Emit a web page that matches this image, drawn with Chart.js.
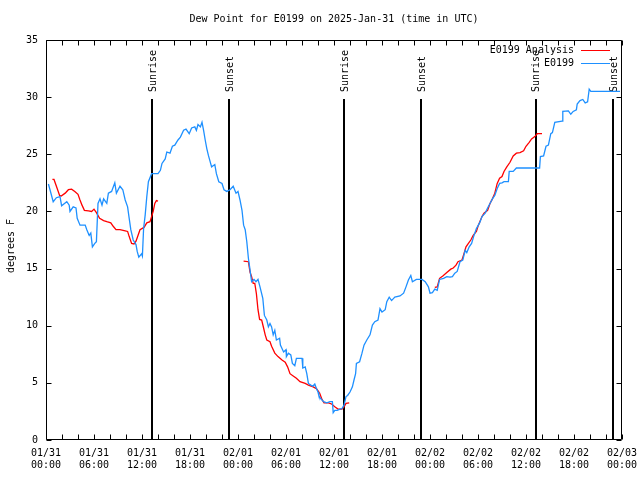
<!DOCTYPE html>
<html>
<head>
<meta charset="utf-8">
<script src="https://cdn.jsdelivr.net/npm/chart.js@4/dist/chart.umd.min.js"></script>
<style>
  html, body { margin: 0; padding: 0; background: #ffffff; }
  canvas { display: block; }
</style>
</head>
<body>
<canvas id="dewChart" width="640" height="480"></canvas>
<script>
// hours since 2025-01-31 00:00 UTC
const obsHours = [
  0.3, 0.5, 0.9, 1.3, 1.75, 1.95, 2.6, 2.9, 3.0, 3.4, 3.75, 3.9, 4.25, 4.9, 5.1, 5.4, 5.6, 5.8, 6.1, 6.3,
  6.5, 6.75, 7.0, 7.2, 7.6, 7.8, 8.2, 8.6, 8.8, 9.25, 9.6, 9.9, 10.2, 10.4, 10.6, 10.9, 11.25, 11.4, 11.6, 11.95,
  12.05, 12.2, 12.4, 12.6, 12.8, 13.2, 13.6, 14.0, 14.3, 14.5, 14.9, 15.1, 15.5, 15.8, 16.1, 16.5, 16.8, 17.2, 17.5, 17.9,
  18.2, 18.6, 18.8, 19.0, 19.3, 19.5, 19.7, 19.9, 20.1, 20.3, 20.5, 20.7, 21.1, 21.3, 21.6, 22.0, 22.25, 22.6, 23.0, 23.4,
  23.75, 24.0, 24.25, 24.5, 24.7, 24.9, 25.1, 25.3, 25.5, 25.7, 26.0, 26.25, 26.5, 26.75, 27.1, 27.3, 27.6, 27.8, 28.0, 28.2,
  28.4, 28.6, 28.8, 29.2, 29.3, 29.7, 30.0, 30.05, 30.3, 30.6, 30.8, 31.1, 31.3, 32.0, 32.1, 32.4, 32.6, 32.8, 33.1, 33.35,
  33.6, 33.8, 34.0, 34.1, 34.3, 34.7, 35.1, 35.5, 35.8, 35.9, 36.1, 36.4, 36.75, 37.0, 37.25, 37.5, 37.7, 38.0, 38.3, 38.5,
  38.7, 38.8, 39.2, 39.5, 39.75, 40.1, 40.5, 40.8, 41.1, 41.5, 41.75, 42.0, 42.4, 42.6, 42.9, 43.2, 43.6, 44.25, 44.7, 45.0,
  45.3, 45.6, 45.8, 46.3, 47.0, 47.4, 47.8, 48.0, 48.3, 48.6, 48.9, 49.2, 49.7, 50.1, 50.5, 50.8, 51.1, 51.4, 51.75, 52.1,
  52.4, 52.6, 52.9, 53.2, 53.5, 53.8, 54.2, 54.5, 54.9, 55.2, 55.5, 55.8, 56.1, 56.4, 56.7, 57.0, 57.25, 57.8, 57.9, 58.4,
  58.8, 61.7, 61.8, 62.2, 62.5, 62.8, 63.1, 63.3, 63.6, 64.5, 64.6, 65.3, 65.6, 65.9, 66.3, 66.4, 66.75, 67.1, 67.4, 67.7,
  67.9, 68.1, 71.75
];
const obsDewPoint = [
  22.4, 21.9, 20.85, 21.2, 21.3, 20.5, 20.85, 20.55, 20.0, 20.4, 20.3, 19.4, 18.8, 18.8, 18.4, 17.9, 18.1, 16.9, 17.2, 17.35,
  20.7, 21.1, 20.55, 21.1, 20.7, 21.6, 21.75, 22.5, 21.6, 22.2, 21.9, 21.0, 20.4, 19.4, 18.4, 17.5, 17.1, 16.5, 16.0, 16.3,
  16.1, 18.5, 19.7, 21.3, 22.6, 23.3, 23.3, 23.3, 23.6, 24.2, 24.6, 25.2, 25.1, 25.7, 25.8, 26.25, 26.5, 27.1, 27.2, 26.8,
  27.3, 27.4, 27.1, 27.6, 27.4, 27.8, 27.1, 26.25, 25.5, 24.9, 24.4, 23.9, 24.1, 23.3, 22.6, 22.45, 21.9, 21.75, 21.9, 22.2,
  21.6, 21.75, 21.0, 20.1, 18.8, 18.4, 17.35, 15.9, 14.9, 13.85, 14.05, 13.85, 14.05, 13.4, 12.4, 10.9, 10.5, 9.9, 10.2, 9.9,
  9.2, 9.6, 8.75, 8.9, 8.3, 7.7, 7.9, 7.3, 7.6, 7.45, 6.7, 6.5, 7.15, 7.15, 6.3, 6.4, 5.8, 4.95, 4.8, 4.7,
  4.9, 4.5, 4.2, 3.9, 3.65, 3.35, 3.25, 3.35, 3.35, 2.4, 2.6, 2.6, 2.7, 2.75, 3.05, 3.8, 3.9, 4.2, 4.65, 5.25,
  5.8, 6.7, 6.85, 7.6, 8.3, 8.75, 9.2, 10.05, 10.35, 10.5, 11.5, 11.2, 11.4, 12.1, 12.5, 12.2, 12.5, 12.6, 12.85, 13.4,
  14.0, 14.4, 13.85, 14.05, 14.05, 13.85, 13.4, 12.85, 12.9, 13.2, 13.1, 14.05, 14.15, 14.3, 14.25, 14.3, 14.6, 14.75, 15.6, 15.75,
  16.6, 16.4, 16.9, 17.2, 17.9, 18.5, 19.0, 19.55, 19.85, 20.3, 20.7, 21.1, 21.4, 22.0, 22.45, 22.5, 22.6, 22.6, 23.5, 23.5,
  23.8, 23.8, 24.8, 24.85, 25.7, 25.8, 26.8, 26.9, 27.8, 27.9, 28.75, 28.8, 28.5, 28.75, 28.9, 29.4, 29.7, 29.8, 29.5, 29.6,
  30.7, 30.5, 30.5
];

// analysis runs, null breaks the line between runs
const anaHours = [
  0.8, 1.0, 1.3, 1.7, 1.9, 2.4, 2.8, 3.2, 3.6, 4.0, 4.25, 4.5, 4.8, 5.3, 5.7, 6.0, 6.3, 6.7, 7.2, 7.6,
  8.1, 8.4, 8.75, 9.25, 9.9, 10.2, 10.4, 10.7, 11.0, 11.25, 11.5, 11.75, 12.25, 12.6, 13.0, 13.2, 13.4, 13.6, 13.8, 14.0,
  19.0,
  24.7, 25.3, 25.5, 25.7, 25.9, 26.1, 26.3, 26.5, 26.7, 26.96, 27.2, 27.4, 27.6, 28.0, 28.2, 28.6, 29.0, 29.5, 29.9, 30.2,
  30.5, 30.9, 31.3, 31.75, 32.4, 32.8, 33.4, 33.8, 34.2, 34.5, 34.75, 35.3, 35.7, 36.1, 36.5, 37.0, 37.25, 37.5, 37.9,
  43.0,
  48.6, 48.9, 49.2, 49.6, 50.1, 50.6, 50.9, 51.25, 51.5, 52.0, 52.2, 52.5, 52.8, 53.1, 53.4, 53.8, 54.0, 54.5, 54.75, 55.2,
  55.5, 55.8, 56.1, 56.4, 56.7, 57.0, 57.25, 57.6, 58.0, 58.4, 58.8, 59.25, 59.7, 60.0, 60.4, 60.7, 61.1, 61.4, 62.0
];
const anaDewPoint = [
  22.8, 22.8, 22.2, 21.4, 21.35, 21.6, 21.9, 21.95, 21.75, 21.5, 21.0, 20.55, 20.1, 20.05, 20.0, 20.2, 19.9, 19.4, 19.2, 19.1,
  19.0, 18.7, 18.4, 18.4, 18.3, 18.25, 17.8, 17.2, 17.15, 17.4, 17.9, 18.4, 18.6, 19.0, 19.1, 19.55, 20.0, 20.7, 20.95, 20.9,
  null,
  15.65, 15.6, 14.7, 14.3, 13.7, 13.7, 12.8, 11.4, 10.55, 10.5, 9.8, 9.2, 8.75, 8.6, 8.2, 7.6, 7.3, 7.0, 6.8, 6.4,
  5.8, 5.6, 5.4, 5.1, 4.95, 4.8, 4.65, 4.5, 4.1, 3.55, 3.25, 3.25, 3.15, 2.9, 2.7, 2.7, 2.9, 3.2, 3.25,
  null,
  13.35, 13.4, 14.15, 14.35, 14.65, 14.95, 15.05, 15.3, 15.6, 15.75, 16.2, 16.9, 17.2, 17.5, 17.9, 18.25, 18.7, 19.55, 19.85, 20.1,
  20.7, 21.1, 21.6, 22.45, 22.9, 23.05, 23.5, 23.9, 24.3, 24.85, 25.1, 25.15, 25.3, 25.7, 26.05, 26.35, 26.55, 26.8, 26.8
];

const sunHours = [13.29, 22.91, 37.29, 46.91, 61.2, 70.91];
const sunLabels = ["Sunrise", "Sunset", "Sunrise", "Sunset", "Sunrise", "Sunset"];

const xTickLabels = [
  ["01/31", "00:00"], ["01/31", "06:00"], ["01/31", "12:00"], ["01/31", "18:00"],
  ["02/01", "00:00"], ["02/01", "06:00"], ["02/01", "12:00"], ["02/01", "18:00"],
  ["02/02", "00:00"], ["02/02", "06:00"], ["02/02", "12:00"], ["02/02", "18:00"],
  ["02/03", "00:00"]
];

const FONT = "DejaVu Sans Mono";
const RED = "#ff0000";
const BLUE = "#1e90ff";

function toPoints(xs, ys) {
  return xs.map((x, i) => ({ x: x, y: ys[i] }));
}

function crisp(v) {
  return Math.round(v) + 0.5;
}

// sun markers go under the data, frame/legend/titles on top
const gnuplotLook = {
  id: "gnuplotLook",
  beforeDatasetsDraw(chart) {
    const { ctx, chartArea, scales } = chart;
    const x = scales.x;
    const y = scales.y;

    ctx.save();
    ctx.strokeStyle = "#000000";
    ctx.lineWidth = 2;
    ctx.beginPath();
    sunHours.forEach((h) => {
      const px = Math.round(x.getPixelForValue(h));
      ctx.moveTo(px, chartArea.bottom);
      ctx.lineTo(px, Math.round(y.getPixelForValue(29.8)));
    });
    ctx.stroke();

    ctx.fillStyle = "#000000";
    ctx.font = `10px "${FONT}"`;
    ctx.textAlign = "left";
    ctx.textBaseline = "middle";
    sunHours.forEach((h, i) => {
      ctx.save();
      ctx.translate(x.getPixelForValue(h) + 1, y.getPixelForValue(30.45));
      ctx.rotate(-Math.PI / 2);
      ctx.fillText(sunLabels[i], 0, 0);
      ctx.restore();
    });
    ctx.restore();
  },
  afterDraw(chart) {
    const { ctx, chartArea, scales } = chart;
    const x = scales.x;
    const y = scales.y;
    const left = crisp(chartArea.left);
    const right = crisp(chartArea.right - 1);
    const top = crisp(chartArea.top);
    const bottom = crisp(chartArea.bottom - 1);

    ctx.save();
    ctx.strokeStyle = "#000000";
    ctx.lineWidth = 1;
    ctx.beginPath();
    ctx.moveTo(left, top);
    ctx.lineTo(right, top);
    ctx.lineTo(right, bottom);
    ctx.lineTo(left, bottom);
    ctx.closePath();

    // inward ticks on all four sides
    for (let h = 0; h <= 72; h += 2) {
      const px = crisp(x.getPixelForValue(h));
      ctx.moveTo(px, bottom);
      ctx.lineTo(px, bottom - 5);
      ctx.moveTo(px, top);
      ctx.lineTo(px, top + 5);
    }
    for (let v = 0; v <= 35; v += 5) {
      const py = crisp(y.getPixelForValue(v));
      ctx.moveTo(left, py);
      ctx.lineTo(left + 5, py);
      ctx.moveTo(right, py);
      ctx.lineTo(right - 5, py);
    }
    ctx.stroke();

    ctx.fillStyle = "#000000";
    ctx.font = `10px "${FONT}"`;
    ctx.textBaseline = "middle";

    ctx.textAlign = "center";
    ctx.fillText("Dew Point for E0199 on 2025-Jan-31 (time in UTC)",
      (chartArea.left + chartArea.right) / 2, 19);

    ctx.save();
    ctx.translate(11, 246);
    ctx.rotate(-Math.PI / 2);
    ctx.fillText("degrees F", 0, 0);
    ctx.restore();

    // legend
    const rows = [
      { label: "E0199 Analysis", color: RED, y: 50 },
      { label: "E0199", color: BLUE, y: 63 }
    ];
    ctx.textAlign = "right";
    rows.forEach((r) => {
      ctx.fillStyle = "#000000";
      ctx.fillText(r.label, 574, r.y);
      ctx.strokeStyle = r.color;
      ctx.lineWidth = 1;
      ctx.beginPath();
      ctx.moveTo(581, r.y + 0.5);
      ctx.lineTo(610, r.y + 0.5);
      ctx.stroke();
    });
    ctx.restore();
  }
};

new Chart(document.getElementById("dewChart"), {
  type: "line",
  data: {
    datasets: [
      {
        label: "E0199",
        data: toPoints(obsHours, obsDewPoint),
        borderColor: BLUE,
        borderWidth: 1.3,
        pointRadius: 0,
        tension: 0,
        order: 0
      },
      {
        label: "E0199 Analysis",
        data: toPoints(anaHours, anaDewPoint),
        borderColor: RED,
        borderWidth: 1.3,
        pointRadius: 0,
        tension: 0,
        spanGaps: false,
        order: 1
      }
    ]
  },
  options: {
    responsive: false,
    animation: false,
    devicePixelRatio: 1,
    layout: { padding: { left: 0, right: 18, top: 40, bottom: 0 } },
    plugins: {
      legend: { display: false },
      title: { display: false },
      tooltip: { enabled: false }
    },
    scales: {
      x: {
        type: "linear",
        min: 0,
        max: 72,
        afterFit: (scale) => {
          scale.height = 40;
          scale.paddingLeft = 0;
          scale.paddingRight = 0;
        },
        grid: { display: false, drawTicks: false },
        border: { display: false },
        ticks: {
          stepSize: 6,
          autoSkip: false,
          maxRotation: 0,
          padding: 8,
          color: "#000000",
          font: { family: FONT, size: 10, lineHeight: 1.15 },
          callback: (value) => xTickLabels[Math.round(value / 6)]
        }
      },
      y: {
        min: 0,
        max: 35,
        afterFit: (scale) => {
          scale.width = 46;
          scale.paddingTop = 0;
          scale.paddingBottom = 0;
        },
        grid: { display: false, drawTicks: false },
        border: { display: false },
        ticks: {
          stepSize: 5,
          padding: 8,
          color: "#000000",
          font: { family: FONT, size: 10 }
        }
      }
    }
  },
  plugins: [gnuplotLook]
});
</script>
</body>
</html>
